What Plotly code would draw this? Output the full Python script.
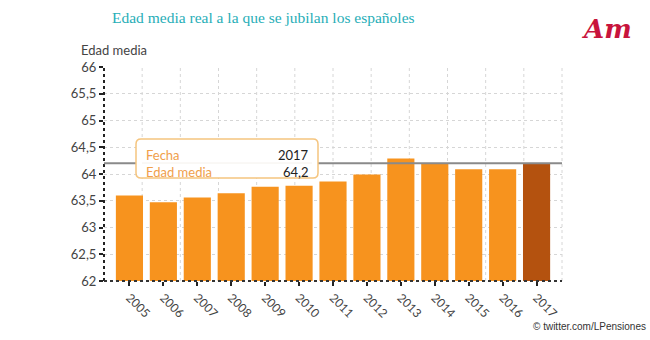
import plotly.graph_objects as go

years = ["2005", "2006", "2007", "2008", "2009", "2010", "2011", "2012", "2013", "2014", "2015", "2016", "2017"]
edad_media = [63.6, 63.47, 63.56, 63.64, 63.76, 63.78, 63.86, 63.99, 64.29, 64.2, 64.09, 64.09, 64.2]
y_ticks = [62, 62.5, 63, 63.5, 64, 64.5, 65, 65.5, 66]
y_ticktext = ["62", "62,5", "63", "63,5", "64", "64,5", "65", "65,5", "66"]

W, H = 650, 340
L, R, T, B = 104, 88, 67, 59
PW, PH = W - L - R, H - T - B

def px(x):
    return (x - L) / PW

def py(y):
    return (H - B - y) / PH

ORANGE = "#F7931E"
DARK = "#B4520F"
colors = [ORANGE] * (len(years) - 1) + [DARK]

FONT = "Lato, 'Open Sans', sans-serif"
GRID = "#d6d6d6"

fig = go.Figure()
fig.add_trace(go.Bar(
    x=years, y=edad_media, marker=dict(color=colors, line=dict(width=0)),
    width=0.8, hoverinfo="skip",
))

shapes = []
# vertical dotted grid lines
for i in range(1, 13):
    shapes.append(dict(type="line", xref="paper", yref="paper", x0=i / 12, x1=i / 12, y0=0, y1=1,
                       line=dict(color=GRID, width=1, dash="dot"), layer="below"))
# dotted axis lines
shapes.append(dict(type="line", xref="paper", yref="paper", x0=0, x1=0, y0=0, y1=1,
                   line=dict(color="#222", width=2, dash="dot")))
shapes.append(dict(type="line", xref="paper", yref="paper", x0=0, x1=1, y0=0, y1=0,
                   line=dict(color="#333", width=2, dash="dot")))
# reference line at last value
shapes.append(dict(type="line", xref="paper", yref="y", x0=0, x1=1, y0=edad_media[-1], y1=edad_media[-1],
                   line=dict(color="#8a8a8a", width=2)))

# tooltip box (rounded)
bx0, bx1, by0, by1 = 136, 318, 139, 178
r = 5
rx, ry = r / PW, r / PH
X0, X1, Y0, Y1 = px(bx0), px(bx1), py(by1), py(by0)
path = (f"M {X0+rx},{Y0} L {X1-rx},{Y0} Q {X1},{Y0} {X1},{Y0+ry} L {X1},{Y1-ry} Q {X1},{Y1} {X1-rx},{Y1} "
        f"L {X0+rx},{Y1} Q {X0},{Y1} {X0},{Y1-ry} L {X0},{Y0+ry} Q {X0},{Y0} {X0+rx},{Y0} Z")
shapes.append(dict(type="path", xref="paper", yref="paper", path=path,
                   fillcolor="white", line=dict(color="#F5C57F", width=1.5)))
shapes.append(dict(type="line", xref="paper", yref="paper", x0=px(bx0 + 6), x1=px(bx1 - 6),
                   y0=py(163), y1=py(163), line=dict(color="#f4f1ec", width=1)))

annotations = [
    dict(text="Edad media real a la que se jubilan los españoles", xref="paper", yref="paper",
         x=px(263), y=py(17), xanchor="center", yanchor="middle", showarrow=False,
         font=dict(family="'Liberation Serif', serif", size=15.5, color="#27AEB7")),
    dict(text="Edad media", xref="paper", yref="paper", x=px(79), y=py(50), xanchor="left", yanchor="middle",
         showarrow=False, font=dict(family=FONT, size=13, color="#444")),
    dict(text="Fecha", xref="paper", yref="paper", x=px(144), y=py(155), xanchor="left", yanchor="middle",
         showarrow=False, font=dict(family=FONT, size=13, color="#F0A04B")),
    dict(text="Edad media", xref="paper", yref="paper", x=px(144), y=py(172), xanchor="left", yanchor="middle",
         showarrow=False, font=dict(family=FONT, size=13, color="#F0A04B")),
    dict(text=years[-1], xref="paper", yref="paper", x=px(311), y=py(155), xanchor="right", yanchor="middle",
         showarrow=False, font=dict(family=FONT, size=13, color="#222")),
    dict(text=f"{edad_media[-1]:.1f}".replace(".", ","), xref="paper", yref="paper", x=px(311), y=py(172),
         xanchor="right", yanchor="middle", showarrow=False, font=dict(family=FONT, size=13, color="#222")),
    dict(text="© twitter.com/LPensiones", xref="paper", yref="paper", x=px(648), y=py(326),
         xanchor="right", yanchor="middle", showarrow=False,
         font=dict(family="'Liberation Sans', Arial, sans-serif", size=10, color="#333")),
    dict(text="<b><i>Am</i></b>", xref="paper", yref="paper", x=px(606), y=py(29),
         xanchor="center", yanchor="middle", showarrow=False,
         font=dict(family="'DejaVu Serif', serif", size=26, color="#C8143C")),
]

fig.update_layout(
    width=W, height=H, margin=dict(l=L, r=R, t=T, b=B),
    paper_bgcolor="white", plot_bgcolor="white",
    showlegend=False, separators=",.",
    shapes=shapes, annotations=annotations,
    xaxis=dict(type="category", range=[-0.75, 12.75], showgrid=False, zeroline=False, showline=False,
               ticks="outside", ticklen=4, tickcolor="#222", tickwidth=1.5, tickangle=45,
               tickfont=dict(family=FONT, size=12, color="#444"), fixedrange=True),
    yaxis=dict(range=[62, 66], tickvals=y_ticks, ticktext=y_ticktext, showgrid=True,
               gridcolor=GRID, griddash="dot", gridwidth=1, zeroline=False, showline=False,
               ticks="outside", ticklen=4, tickcolor="#222", tickwidth=1.5,
               tickfont=dict(family=FONT, size=13, color="#444"), fixedrange=True),
)

fig.write_html("out.html")
